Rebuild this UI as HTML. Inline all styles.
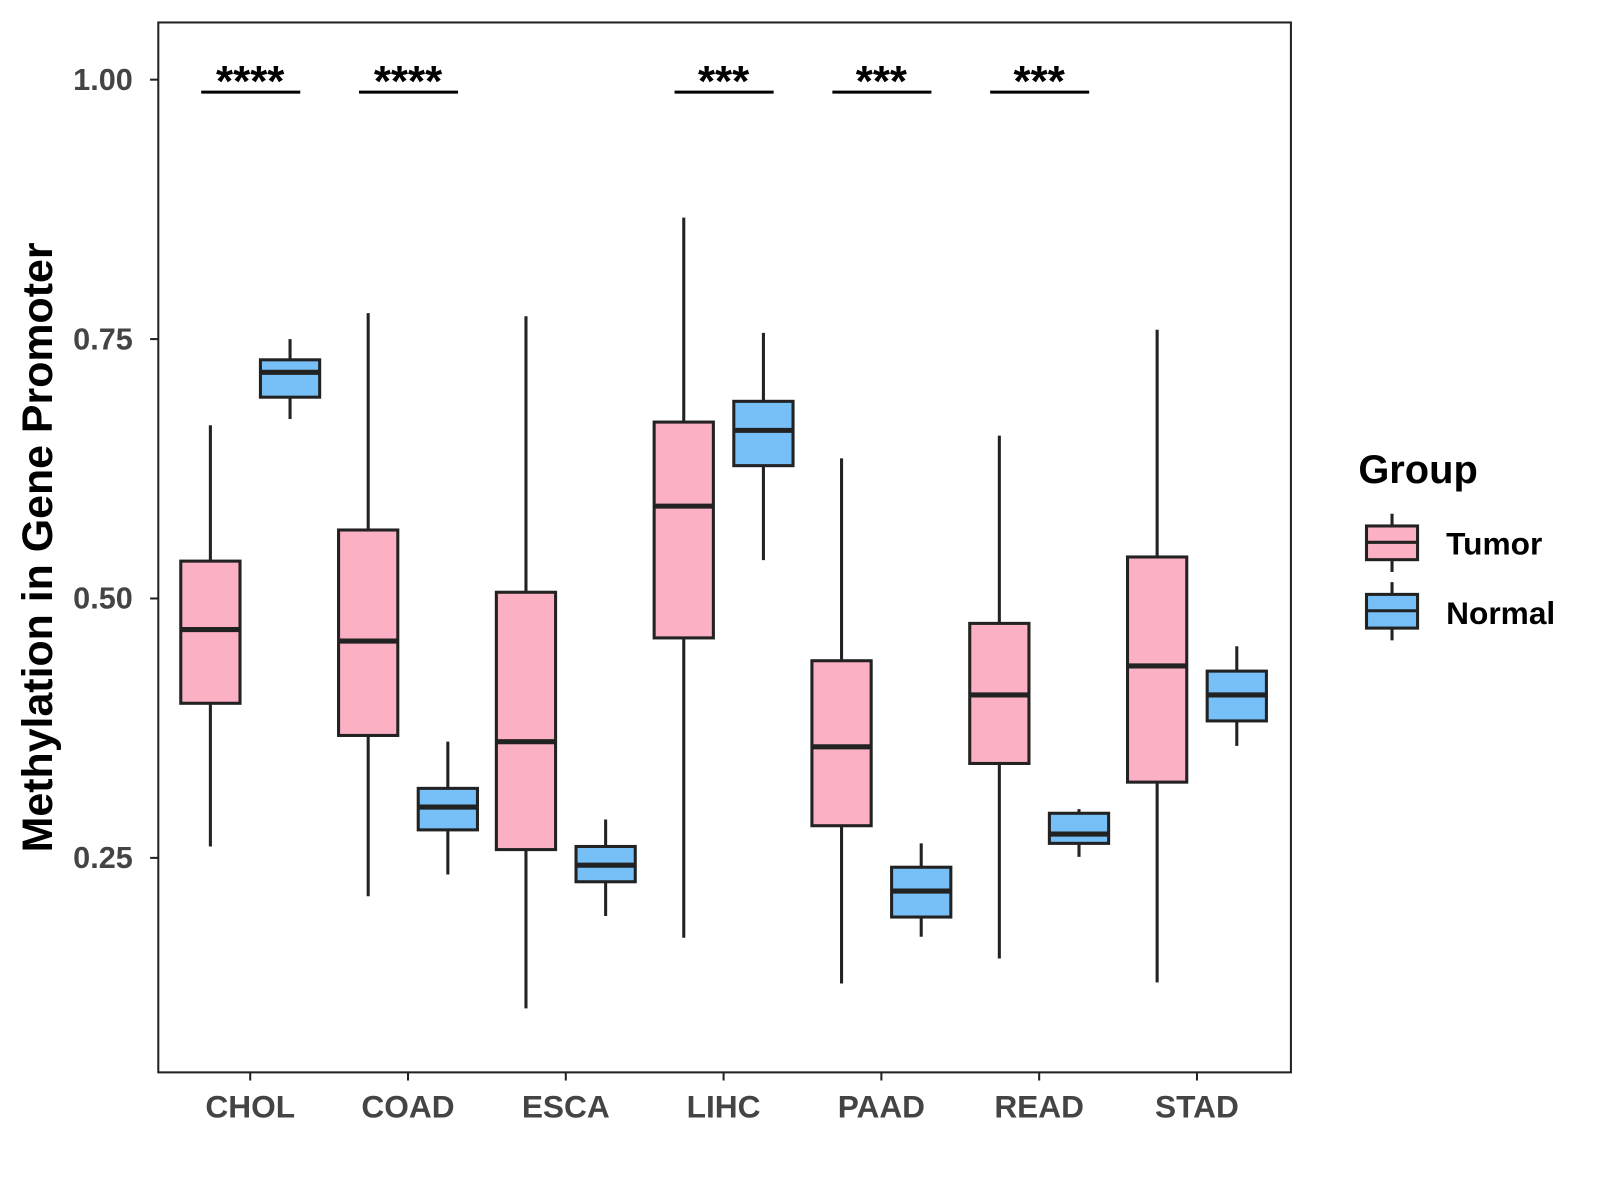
<!DOCTYPE html>
<html><head><meta charset="utf-8"><style>
body{margin:0;background:#fff;}
svg{display:block;font-family:"Liberation Sans",Arial,sans-serif;}
</style></head><body>
<svg id="chart" width="1600" height="1200" viewBox="0 0 1600 1200">
<g transform="scale(1.0213)">
<rect x="155" y="22" width="1109" height="1028" fill="#fff" stroke="#222" stroke-width="2"/>
<g id="marks"></g>
<text transform="translate(51,536) rotate(-90)" text-anchor="middle" font-size="42" font-weight="bold" fill="#000">Methylation in Gene Promoter</text>
<text x="1330" y="473" font-size="39" font-weight="bold">Group</text>
<g>
<line x1="1363" y1="503" x2="1363" y2="560" stroke="#222" stroke-width="3"/>
<rect x="1338" y="515" width="50" height="33" fill="#FBB0C3" stroke="#222" stroke-width="3"/>
<line x1="1338" y1="531" x2="1388" y2="531" stroke="#222" stroke-width="3"/>
<text x="1416" y="543" font-size="31" font-weight="bold">Tumor</text></g>
<g>
<line x1="1363" y1="570" x2="1363" y2="627" stroke="#222" stroke-width="3"/>
<rect x="1338" y="582" width="50" height="33" fill="#77BFF7" stroke="#222" stroke-width="3"/>
<line x1="1338" y1="598" x2="1388" y2="598" stroke="#222" stroke-width="3"/>
<text x="1416" y="611" font-size="31" font-weight="bold">Normal</text></g>
</g>
</svg>
<script>
const categories=["CHOL","COAD","ESCA","LIHC","PAAD","READ","STAD"];
const tumorStats=[[0.261,0.399,0.470,0.536,0.667],[0.213,0.368,0.459,0.566,0.775],[0.105,0.258,0.362,0.506,0.772],[0.173,0.462,0.589,0.670,0.867],[0.129,0.281,0.357,0.440,0.635],[0.153,0.341,0.407,0.476,0.657],[0.130,0.323,0.435,0.540,0.759]];
const normalStats=[[0.673,0.694,0.718,0.730,0.750],[0.234,0.277,0.299,0.317,0.362],[0.194,0.227,0.243,0.261,0.287],[0.537,0.628,0.662,0.690,0.756],[0.174,0.193,0.218,0.241,0.264],[0.251,0.264,0.273,0.293,0.297],[0.358,0.382,0.407,0.430,0.454]];
const signif=["****","****","","***","***","***",""];
const yTicks=[0.25,0.50,0.75,1.00];
const NS="http://www.w3.org/2000/svg";
const g=document.getElementById('marks');
const y=v=>78+(1-v)*1016;
const x=i=>245+i*154.5;
function el(t,a,p){const e=document.createElementNS(NS,t);for(const k in a)e.setAttribute(k,a[k]);(p||g).appendChild(e);return e;}
yTicks.forEach(t=>{
 el('line',{x1:147,x2:155,y1:y(t),y2:y(t),stroke:'#222','stroke-width':2});
 const tx=el('text',{x:130,y:y(t)+10,'text-anchor':'end','font-size':30,'font-weight':'bold',fill:'#444'});
 tx.textContent=t.toFixed(2);
 
 
});
categories.forEach((c,i)=>{
 el('line',{x1:x(i),x2:x(i),y1:1050,y2:1058,stroke:'#222','stroke-width':2});
 const tx=el('text',{x:x(i),y:1094,'text-anchor':'middle','font-size':31,'font-weight':'bold',fill:'#444'});
 tx.textContent=c;
 
 
 [[tumorStats[i],-39,'#FBB0C3','tumor'],[normalStats[i],39,'#77BFF7','normal']].forEach(([s,off,col,nm])=>{
  const cx=x(i)+off;
  const bg=el('g',{});
  
  
  el('line',{x1:cx,x2:cx,y1:y(s[0]),y2:y(s[4]),stroke:'#222','stroke-width':3},bg);
  el('rect',{x:cx-29,y:y(s[3]),width:58,height:y(s[1])-y(s[3]),fill:col,stroke:'#222','stroke-width':3},bg);
  el('line',{x1:cx-29,x2:cx+29,y1:y(s[2]),y2:y(s[2]),stroke:'#222','stroke-width':5},bg);
 });
 if(signif[i]){
  const sg=el('g',{});
  
  
  el('line',{x1:x(i)-48,x2:x(i)+49,y1:y(0.988),y2:y(0.988),stroke:'#000','stroke-width':3},sg);
  const st=el('text',{x:x(i),y:y(0.988)+4,'text-anchor':'middle','font-size':43,'font-weight':'bold'},sg);
  st.textContent=signif[i];
 }
});
</script>
</body></html>
